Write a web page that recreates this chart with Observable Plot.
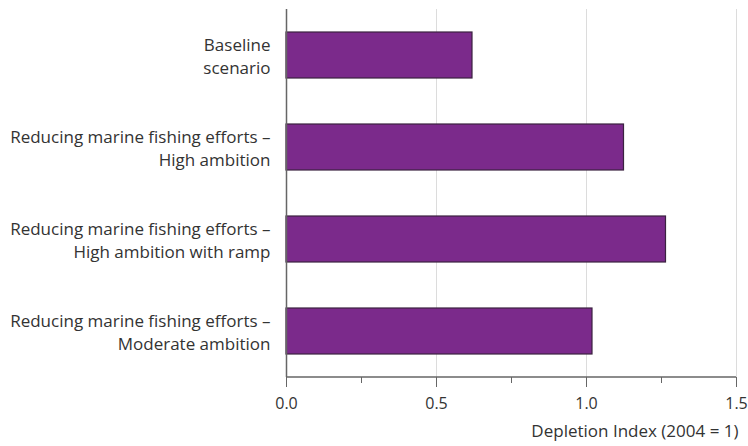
<!DOCTYPE html>
<html>
<head>
<meta charset="utf-8">
<script src="https://cdn.jsdelivr.net/npm/d3@7"></script>
<script src="https://cdn.jsdelivr.net/npm/@observablehq/plot@0.6"></script>
<style>
  html, body { margin: 0; padding: 0; background: #fff; }
  svg { display: block; font-family: "Open Sans", "Noto Sans", sans-serif; }
</style>
</head>
<body>
<div id="chart"></div>
<script>
const scenarios = [
  "Baseline\nscenario",
  "Reducing marine fishing efforts –\nHigh ambition",
  "Reducing marine fishing efforts –\nHigh ambition with ramp",
  "Reducing marine fishing efforts –\nModerate ambition"
];
const values = [0.62, 1.125, 1.265, 1.02];
const majorTicks = [0, 0.5, 1.0, 1.5];
const minorTicks = [0.25, 0.75, 1.25];
const gridTicks = [0.5, 1.0, 1.5];
const xTitle = "Depletion Index (2004 = 1)";

const data = scenarios.map((s, i) => ({scenario: s, value: values[i]}));

const axisLine = (index, scales, values, dims) => {
  const y = dims.height - dims.marginBottom;
  return d3.create("svg:line")
    .attr("x1", dims.marginLeft).attr("x2", dims.width - dims.marginRight)
    .attr("y1", y).attr("y2", y)
    .attr("stroke", "#666").attr("stroke-width", 1.5)
    .node();
};

const chart = Plot.plot({
  width: 748,
  height: 446,
  marginLeft: 286,
  marginRight: 12,
  marginTop: 9,
  marginBottom: 69,
  style: {fontFamily: "'Open Sans', 'Noto Sans', sans-serif", fontSize: "17px", color: "#333"},
  x: {domain: [0, 1.5]},
  y: {domain: scenarios, paddingInner: 0.5, paddingOuter: 0.25},
  marks: [
    Plot.gridX(gridTicks, {stroke: "#dcdcdc", strokeOpacity: 1, strokeWidth: 1}),
    Plot.barX(data, {x: "value", y: "scenario", fill: "#7b2a8b", stroke: "#3b2240", strokeWidth: 1.2}),
    Plot.axisY({tickSize: 0, tickPadding: 16, fontSize: 17, lineHeight: 1.35, fill: "#333", label: null}),
    Plot.ruleX([0], {stroke: "#666", strokeWidth: 1.5}),
    Plot.axisX(majorTicks, {tickSize: 10, tickPadding: 10, tickFormat: d3.format(".1f"), fontSize: 16, fill: "#333", stroke: "#666", label: null}),
    Plot.axisX(minorTicks, {tickSize: 6, tickFormat: () => "", stroke: "#666", label: null}),
    axisLine,
    Plot.text([xTitle], {frameAnchor: "bottom-right", dy: 54, dx: 2, textAnchor: "end", lineAnchor: "middle", fontSize: 17, fill: "#333"})
  ]
});
document.getElementById("chart").appendChild(chart);
</script>
</body>
</html>
